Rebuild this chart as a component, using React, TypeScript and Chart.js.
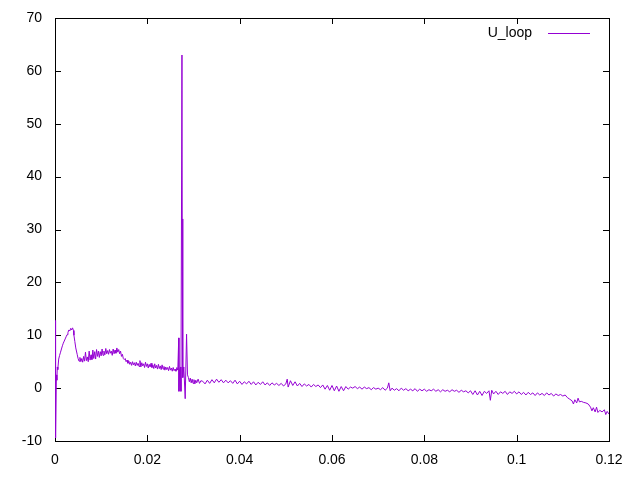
import React, { useEffect, useRef } from "react";
import { Chart, registerables } from "chart.js";

Chart.register(...registerables);

// time axis (s)
const timeValues: number[] = [
  0, 0.00005, 0.0001, 0.00015, 0.0002, 0.0003, 0.0004, 0.0005, 0.0006, 0.0008,
  0.001, 0.0012, 0.0014, 0.0016, 0.0018, 0.002, 0.0022, 0.0024, 0.0026, 0.0028,
  0.003, 0.0032, 0.0034, 0.0036, 0.0038, 0.004, 0.0041, 0.0043, 0.0045, 0.0048,
  0.005, 0.0052, 0.0054, 0.0056, 0.0058, 0.006, 0.0062, 0.0064, 0.0066, 0.0068,
  0.007, 0.0072, 0.0074, 0.0076, 0.0078, 0.008, 0.0082, 0.0084, 0.0086, 0.0088,
  0.009, 0.0092, 0.0094, 0.0096, 0.0098, 0.01, 0.0102, 0.0104, 0.0106, 0.0108,
  0.011, 0.0112, 0.0114, 0.0116, 0.0118, 0.012, 0.0122, 0.0124, 0.0126, 0.0128,
  0.013, 0.0132, 0.0134, 0.0136, 0.0138, 0.014, 0.0142, 0.0144, 0.0146, 0.0148,
  0.015, 0.0152, 0.0154, 0.0156, 0.0158, 0.016, 0.0162, 0.0164, 0.0166, 0.0168,
  0.017, 0.0172, 0.0174, 0.0176, 0.0178, 0.018, 0.0182, 0.0184, 0.0186, 0.0188,
  0.019, 0.0192, 0.0194, 0.0196, 0.0198, 0.02, 0.0202, 0.0204, 0.0206, 0.0208,
  0.021, 0.0212, 0.0214, 0.0216, 0.0218, 0.022, 0.0222, 0.0224, 0.0226, 0.0228,
  0.023, 0.0232, 0.0234, 0.0236, 0.0238, 0.024, 0.0242, 0.0244, 0.0246, 0.0248,
  0.025, 0.0252, 0.0254, 0.0256, 0.0258, 0.026, 0.0262, 0.0264, 0.0266, 0.0268,
  0.02685, 0.027, 0.0272, 0.02728, 0.0275, 0.02758, 0.02765, 0.0277, 0.0279, 0.0282,
  0.0285, 0.0287, 0.0289, 0.0291, 0.0293, 0.0295, 0.0297, 0.0299, 0.0301, 0.0303,
  0.0305, 0.0307, 0.031, 0.0313, 0.0316, 0.032, 0.0325, 0.033, 0.0335, 0.034,
  0.0345, 0.035, 0.0355, 0.036, 0.0365, 0.037, 0.0375, 0.038, 0.0385, 0.039,
  0.0395, 0.04, 0.0405, 0.041, 0.0415, 0.042, 0.0425, 0.043, 0.0435, 0.044,
  0.0445, 0.045, 0.0455, 0.046, 0.0465, 0.047, 0.0475, 0.048, 0.0485, 0.049,
  0.0495, 0.05, 0.0503, 0.0505, 0.051, 0.0515, 0.052, 0.0525, 0.053, 0.0535,
  0.054, 0.0545, 0.055, 0.0555, 0.056, 0.0565, 0.057, 0.0575, 0.058, 0.0585,
  0.059, 0.0595, 0.06, 0.0605, 0.061, 0.0615, 0.062, 0.0625, 0.063, 0.0635,
  0.064, 0.0645, 0.065, 0.0655, 0.066, 0.0665, 0.067, 0.0675, 0.068, 0.0685,
  0.069, 0.0695, 0.07, 0.0705, 0.071, 0.0715, 0.072, 0.0723, 0.0726, 0.073,
  0.0735, 0.074, 0.0745, 0.075, 0.0755, 0.076, 0.0765, 0.077, 0.0775, 0.078,
  0.0785, 0.079, 0.0795, 0.08, 0.0805, 0.081, 0.0815, 0.082, 0.0825, 0.083,
  0.0835, 0.084, 0.0845, 0.085, 0.0855, 0.086, 0.0865, 0.087, 0.0875, 0.088,
  0.0885, 0.089, 0.0895, 0.09, 0.0905, 0.091, 0.0915, 0.092, 0.0925, 0.093,
  0.0935, 0.094, 0.0943, 0.0946, 0.095, 0.0955, 0.096, 0.0965, 0.097, 0.0975,
  0.098, 0.0985, 0.099, 0.0995, 0.1, 0.1005, 0.101, 0.1015, 0.102, 0.1025,
  0.103, 0.1035, 0.104, 0.1045, 0.105, 0.1055, 0.106, 0.1065, 0.107, 0.1075,
  0.108, 0.1085, 0.109, 0.1095, 0.11, 0.1105, 0.111, 0.1115, 0.112, 0.1123,
  0.1126, 0.113, 0.1133, 0.1136, 0.114, 0.1145, 0.115, 0.1155, 0.116, 0.1163,
  0.1166, 0.117, 0.1173, 0.1176, 0.118, 0.1185, 0.119, 0.1193, 0.1196, 0.12,
];

// loop voltage U_loop
const uLoopValues: number[] = [
  0, 12.8, -9.0, 11, -9.4, 2.5, 1.5, 4, 3.5, 5.5,
  6.2, 6.8, 7.4, 8.0, 8.5, 8.9, 9.3, 9.7, 10.1, 10.5,
  11.0, 10.8, 11.3, 11.0, 11.4, 10.9, 10.0, 8.8, 7.6, 6.4,
  5.6, 5.1, 5.8, 5.0, 5.6, 4.9, 6.0, 5.1, 6.8, 5.2,
  5.9, 5.0, 7.0, 5.3, 6.3, 5.4, 7.2, 5.6, 6.9, 5.5,
  7.3, 6.0, 7.0, 5.8, 6.9, 6.1, 7.4, 6.2, 7.0, 6.3,
  7.5, 6.5, 7.1, 6.4, 7.3, 6.6, 7.0, 6.2, 7.4, 6.5,
  7.2, 6.6, 7.6, 6.8, 7.3, 6.5, 7.0, 6.0, 6.4, 5.6,
  5.4, 5.6, 5.0, 5.3, 4.7, 5.1, 4.5, 4.9, 4.3, 5.0,
  4.4, 4.8, 4.2, 4.9, 4.3, 4.7, 4.1, 5.2, 4.0, 4.8,
  4.2, 4.6, 3.9, 4.9, 4.1, 4.6, 3.8, 4.5, 4.0, 4.7,
  3.9, 4.4, 3.7, 4.6, 3.8, 4.3, 3.6, 4.5, 3.7, 4.2,
  3.5, 4.4, 3.6, 4.1, 3.4, 4.0, 3.5, 3.9, 3.3, 4.1,
  3.4, 3.8, 3.2, 3.9, 3.3, 3.6, 3.2, 3.9, 3.4, 9.5,
  -0.6, 3.5, 4.0, -0.6, 63.0, 22.0, 32.0, 2.0, 4.0, -2.0,
  10.2, 2.5, 2.0, 1.2, 1.9, 1.0, 1.7, 0.9, 1.6, 0.8,
  1.5, 1.0, 1.7, 0.9, 1.4, 1.3, 0.8, 1.5, 0.9, 1.6,
  1.0, 1.7, 1.1, 1.6, 1.0, 1.5, 1.0, 1.4, 0.9, 1.5,
  0.8, 1.3, 0.7, 1.2, 0.8, 1.3, 0.7, 1.2, 0.6, 1.1,
  0.7, 1.2, 0.6, 1.0, 0.5, 1.0, 0.6, 0.9, 0.5, 0.9,
  0.4, 0.8, 1.7, 0.2, 1.4, 0.5, 1.2, 0.4, 0.9, 0.3,
  0.8, 0.4, 0.7, 0.2, 0.7, 0.3, 0.6, 0.1, 0.6, -0.2,
  0.5, -0.4, 0.5, -0.5, 0.4, -0.6, 0.3, -0.5, 0.3, -0.2,
  0.2, 0.0, 0.3, -0.1, 0.2, -0.2, 0.2, -0.1, 0.1, -0.3,
  0.1, -0.2, 0.0, -0.3, 0.1, -0.4, 0.0, 1.0, -0.5, 0.0,
  -0.4, -0.1, -0.5, 0.0, -0.4, -0.1, -0.5, -0.2, -0.5, -0.1,
  -0.6, -0.2, -0.5, -0.2, -0.6, -0.3, -0.5, -0.2, -0.6, -0.3,
  -0.7, -0.3, -0.6, -0.4, -0.7, -0.3, -0.6, -0.4, -0.8, -0.4,
  -0.7, -0.5, -0.9, -0.5, -1.2, -0.5, -1.3, -0.6, -1.4, -0.6,
  -1.0, -0.5, -2.3, -0.4, -1.1, -0.6, -1.2, -0.7, -1.0, -0.6,
  -1.2, -0.7, -1.0, -0.6, -1.1, -0.7, -1.2, -0.8, -1.3, -0.8,
  -1.2, -0.9, -1.4, -0.9, -1.3, -1.0, -1.4, -0.9, -1.3, -1.0,
  -1.5, -1.1, -1.4, -1.2, -1.5, -1.3, -1.8, -2.1, -2.4, -3.0,
  -2.2, -2.8, -1.9, -2.6, -2.5, -2.7, -2.8, -3.0, -3.6, -4.3,
  -3.7, -4.5, -3.6, -4.6, -4.2, -4.5, -4.1, -5.0, -4.4, -4.9,
];

const seriesLabel = "U_loop";
const xTickValues = [0, 0.02, 0.04, 0.06, 0.08, 0.1, 0.12];
const yTickValues = [-10, 0, 10, 20, 30, 40, 50, 60, 70];

const LINE_COLOR = "#9400d3";
const FONT = '"Liberation Sans", Arial, sans-serif';
const TICK_LEN = 6;

const gnuplotFrame = {
  id: "gnuplotFrame",
  beforeDatasetsDraw(chart: any) {
    const { ctx, chartArea } = chart;
    const { left, right, top, bottom } = chartArea;
    const xs = chart.scales.x;
    const ys = chart.scales.y;
    ctx.save();
    ctx.strokeStyle = "#000";
    ctx.lineWidth = 1;
    ctx.beginPath();
    xTickValues.forEach((v) => {
      const px = Math.round(xs.getPixelForValue(v)) + 0.5;
      ctx.moveTo(px, bottom);
      ctx.lineTo(px, bottom - TICK_LEN);
      ctx.moveTo(px, top);
      ctx.lineTo(px, top + TICK_LEN);
    });
    yTickValues.forEach((v) => {
      const py = Math.round(ys.getPixelForValue(v)) + 0.5;
      ctx.moveTo(left, py);
      ctx.lineTo(left + TICK_LEN, py);
      ctx.moveTo(right, py);
      ctx.lineTo(right - TICK_LEN, py);
    });
    ctx.stroke();
    ctx.strokeRect(
      Math.round(left) + 0.5,
      Math.round(top) + 0.5,
      Math.round(right - left),
      Math.round(bottom - top)
    );
    ctx.restore();
  },
  afterDraw(chart: any) {
    const { ctx, chartArea } = chart;
    const { right, top } = chartArea;
    const ly = top + 15;
    ctx.save();
    ctx.font = `14px ${FONT}`;
    ctx.fillStyle = "#000";
    ctx.textAlign = "right";
    ctx.textBaseline = "middle";
    ctx.fillText(chart.data.datasets[0].label, right - 77, ly);
    ctx.strokeStyle = LINE_COLOR;
    ctx.lineWidth = 1;
    ctx.beginPath();
    ctx.moveTo(right - 61, Math.round(ly) + 0.5);
    ctx.lineTo(right - 19, Math.round(ly) + 0.5);
    ctx.stroke();
    ctx.restore();
  },
};

export default function App() {
  const canvasRef = useRef<HTMLCanvasElement | null>(null);

  useEffect(() => {
    document.body.style.margin = "0";
    const canvas = canvasRef.current;
    if (!canvas) return;
    const points = timeValues.map((t, i) => ({ x: t, y: uLoopValues[i] }));
    const chart = new Chart(canvas, {
      type: "scatter",
      data: {
        datasets: [
          {
            label: seriesLabel,
            data: points,
            showLine: true,
            borderColor: LINE_COLOR,
            backgroundColor: LINE_COLOR,
            borderWidth: 1,
            pointRadius: 0,
            tension: 0,
          },
        ],
      },
      options: {
        animation: false,
        responsive: false,
        devicePixelRatio: 1,
        layout: { padding: { left: 0, right: 31, top: 18, bottom: 0 } },
        plugins: {
          legend: { display: false },
          tooltip: { enabled: false },
        },
        scales: {
          x: {
            type: "linear",
            min: 0,
            max: 0.12,
            afterBuildTicks: (scale: any) => {
              scale.ticks = xTickValues.map((v) => ({ value: v }));
            },
            afterFit: (scale: any) => {
              scale.height = 39;
              scale.paddingLeft = 0;
              scale.paddingRight = 0;
            },
            grid: { display: false, drawTicks: false },
            border: { display: false },
            ticks: {
              color: "#000",
              padding: 11,
              maxRotation: 0,
              autoSkip: false,
              font: { family: FONT, size: 14 },
              callback: (v: any) => String(Number(Number(v).toFixed(2))),
            },
          },
          y: {
            type: "linear",
            min: -10,
            max: 70,
            afterBuildTicks: (scale: any) => {
              scale.ticks = yTickValues.map((v) => ({ value: v }));
            },
            afterFit: (scale: any) => {
              scale.width = 55;
              scale.paddingTop = 0;
              scale.paddingBottom = 0;
            },
            grid: { display: false, drawTicks: false },
            border: { display: false },
            ticks: {
              color: "#000",
              padding: 13,
              autoSkip: false,
              font: { family: FONT, size: 14 },
              callback: (v: any) => String(v),
            },
          },
        },
      },
      plugins: [gnuplotFrame],
    });
    return () => chart.destroy();
  }, []);

  return (
    <div style={{ width: 640, height: 480 }}>
      <canvas ref={canvasRef} width={640} height={480} style={{ display: "block" }} />
    </div>
  );
}
